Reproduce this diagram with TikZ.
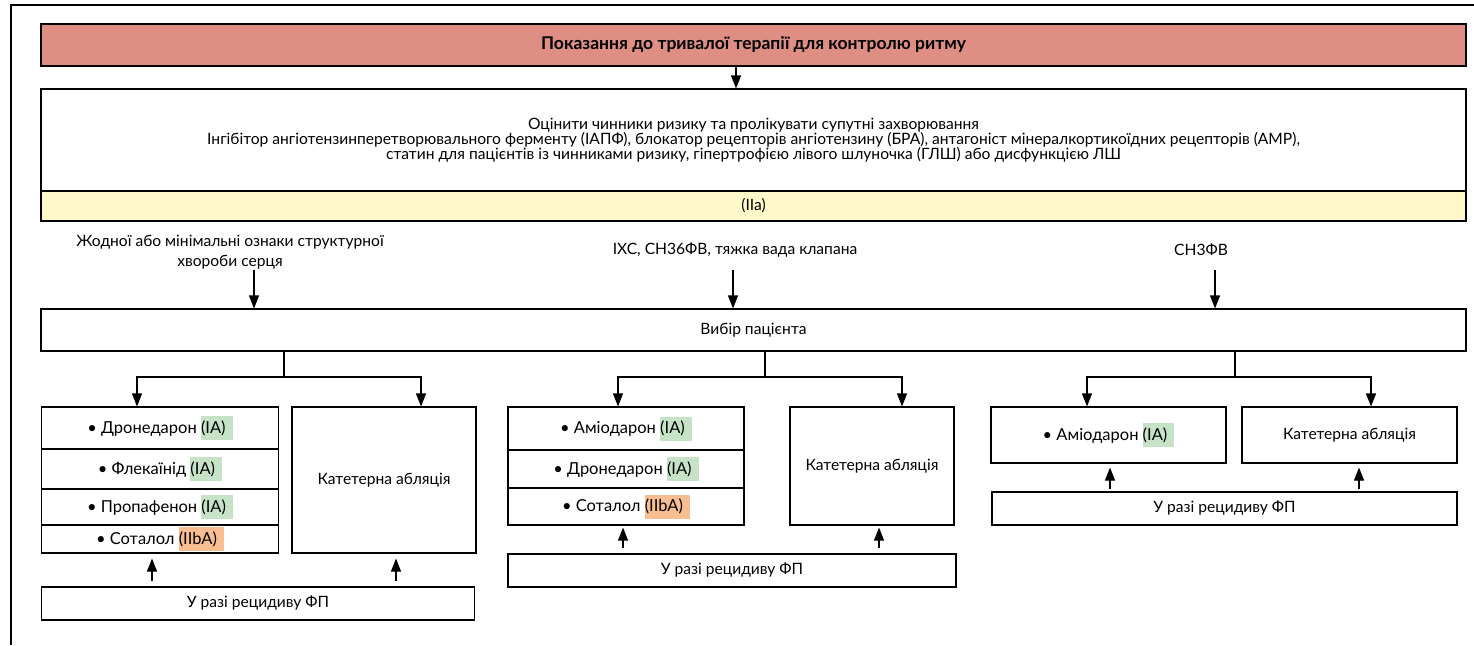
\documentclass[tikz,border=0pt]{standalone}
\usepackage{fontspec}
\setmainfont{Lato}
\usetikzlibrary{arrows.meta}

\definecolor{titlered}{HTML}{DF8E84}
\definecolor{classyellow}{HTML}{FFF8C8}
\definecolor{gradegreen}{HTML}{C6E3C8}
\definecolor{gradeorange}{HTML}{F8BE92}

% highlighted class of recommendation
\newcommand{\grade}[2]{{\setlength{\fboxsep}{0pt}\colorbox{#1}{\rule[-7pt]{0pt}{24pt}#2\hspace{7pt}}}}

\tikzset{
  box/.style={draw, line width=1.1pt, inner sep=0pt, align=center},
  drug/.style={box, font=\fontsize{16.5}{16}\selectfont},
  lbl/.style={inner sep=0pt, align=center},
  arr/.style={-{Triangle[length=13pt,width=10pt]}, line width=1.1pt},
  link/.style={line width=1.1pt}
}

\begin{document}
\begin{tikzpicture}[x=1pt, y=-1pt, font=\fontsize{15.6}{15}\selectfont]
  \useasboundingbox (0,0) rectangle (1474,645);
  \draw[line width=1.1pt] (11,645) -- (11,5) -- (1474,5);

  % header
  \node[box, fill=titlered, minimum width=1425pt, minimum height=42pt] (title) at (753.5,45)
    {\fontsize{17.5}{18}\selectfont\bfseries Показання до тривалої терапії для контролю ритму};
  \node[box, minimum width=1425pt, minimum height=102pt] (assess) at (753.5,140)
    {Оцінити чинники ризику та пролікувати супутні захворювання\\
     Інгібітор ангіотензинперетворювального ферменту (ІАПФ), блокатор рецепторів ангіотензину (БРА), антагоніст мінералкортикоїдних рецепторів (АМР),\\
     статин для пацієнтів із чинниками ризику, гіпертрофією лівого шлуночка (ГЛШ) або дисфункцією ЛШ};
  \node[box, fill=classyellow, minimum width=1425pt, minimum height=30pt] (level) at (753.5,206) {(IIa)};
  \coordinate (t1) at (736,0);
  \draw[arr] (title.south -| t1) -- (assess.north -| t1);

  % groups of patients
  \node[lbl, font=\fontsize{15.6}{20}\selectfont] (lblL) at (230,252)
    {Жодної або мінімальні ознаки структурної\\хвороби серця};
  \node[lbl] (lblM) at (735,250) {ІХС, СН36ФВ, тяжка вада клапана};
  \node[lbl] (lblR) at (1201,250) {СН3ФВ};
  \node[box, minimum width=1425pt, minimum height=42pt] (choice) at (753.5,330) {Вибір пацієнта};
  \coordinate (cL) at (254,270);
  \coordinate (cM) at (733,270);
  \coordinate (cR) at (1215,270);
  \foreach \c in {cL,cM,cR}
    \draw[arr] (\c) -- (\c |- choice.north);

  % left group
  \node[drug, minimum width=236.5pt, minimum height=42pt] (dL1) at (160,428)
    {• Дронедарон \grade{gradegreen}{(IA)}};
  \node[drug, minimum width=236.5pt, minimum height=40pt] (dL2) at (160,469)
    {• Флекаїнід \grade{gradegreen}{(IA)}};
  \node[drug, minimum width=236.5pt, minimum height=36pt] (dL3) at (160,507)
    {• Пропафенон \grade{gradegreen}{(IA)}};
  \node[drug, minimum width=236.5pt, minimum height=28pt] (dL4) at (160,539)
    {• Соталол \grade{gradeorange}{(IIbA)}};
  \node[box, minimum width=184pt, minimum height=146pt] (aL) at (384,480) {Катетерна абляція};
  \node[box, minimum width=433.5pt, minimum height=33pt] (rL) at (258,603.5) {У разі рецидиву ФП};

  % middle group
  \node[drug, minimum width=236pt, minimum height=43pt] (dM1) at (626,428.5)
    {• Аміодарон \grade{gradegreen}{(IA)}};
  \node[drug, minimum width=236pt, minimum height=38pt] (dM2) at (626,469)
    {• Дронедарон \grade{gradegreen}{(IA)}};
  \node[drug, minimum width=236pt, minimum height=37pt] (dM3) at (626,506.5)
    {• Соталол \grade{gradeorange}{(IIbA)}};
  \node[box, minimum width=164pt, minimum height=118pt] (aM) at (872,466) {Катетерна абляція};
  \node[box, minimum width=448pt, minimum height=33pt] (rM) at (732,570.5) {У разі рецидиву ФП};

  % right group
  \node[drug, minimum width=235pt, minimum height=56pt] (dR) at (1108.5,435)
    {• Аміодарон \grade{gradegreen}{(IA)}};
  \node[box, minimum width=215pt, minimum height=56pt] (aR) at (1349.5,435) {Катетерна абляція};
  \node[box, minimum width=465pt, minimum height=33pt] (rR) at (1224.5,508.5) {У разі рецидиву ФП};

  % split to the options
  \coordinate (sL) at (284,377);
  \coordinate (sM) at (765,377);
  \coordinate (sR) at (1235,377);
  \draw[link] (choice.south -| sL) -- (sL);
  \draw[link] (choice.south -| sM) -- (sM);
  \draw[link] (choice.south -| sR) -- (sR);
  \draw[arr] (sL) -| ([xshift=-23pt]dL1.north);
  \draw[arr] (sL) -| ([xshift=37pt]aL.north);
  \draw[arr] (sM) -| ([xshift=-8pt]dM1.north);
  \draw[arr] (sM) -| ([xshift=30pt]aM.north);
  \draw[arr] (sR) -| ([xshift=-21.5pt]dR.north);
  \draw[arr] (sR) -| ([xshift=21.5pt]aR.north);

  % recurrence
  \draw[arr, shorten <=5pt, shorten >=5pt] ([xshift=-8pt]dL4.south |- rL.north) -- ([xshift=-8pt]dL4.south);
  \draw[arr, shorten <=5pt, shorten >=5pt] ([xshift=12pt]aL.south |- rL.north) -- ([xshift=12pt]aL.south);
  \draw[arr, shorten <=5pt, shorten >=2pt] ([xshift=-3pt]dM3.south |- rM.north) -- ([xshift=-3pt]dM3.south);
  \draw[arr, shorten <=5pt, shorten >=2pt] ([xshift=7pt]aM.south |- rM.north) -- ([xshift=7pt]aM.south);
  \draw[arr, shorten <=2pt, shorten >=4pt] ([xshift=1.5pt]dR.south |- rR.north) -- ([xshift=1.5pt]dR.south);
  \draw[arr, shorten <=2pt, shorten >=4pt] ([xshift=9.5pt]aR.south |- rR.north) -- ([xshift=9.5pt]aR.south);
\end{tikzpicture}
\end{document}
